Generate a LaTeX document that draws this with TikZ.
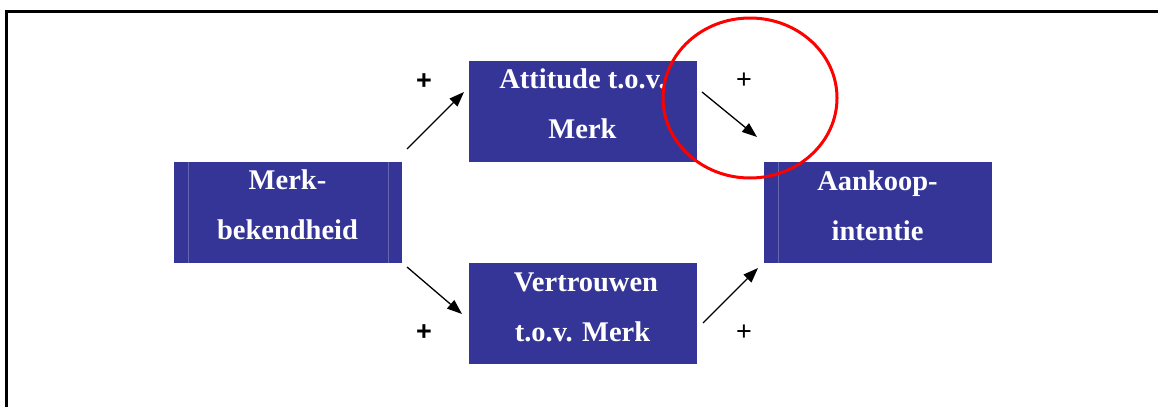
\documentclass[tikz,border=0pt]{standalone}
\usepackage{fontspec}
\setmainfont{Liberation Serif}
\newfontfamily\plusfont{Liberation Sans}
\usetikzlibrary{arrows.meta}
\definecolor{boxblue}{RGB}{53,53,151}
\definecolor{boxedge}{RGB}{100,100,175}
\tikzset{
  boxst/.style={fill=boxblue, draw=none, inner sep=0pt, minimum width=228pt, minimum height=101pt},
  txt/.style={text=white, font=\fontsize{28.5}{34}\selectfont\bfseries, anchor=base, inner sep=0pt},
  arr/.style={line width=1.3pt, -{Triangle[length=15pt,width=11pt]}},
  plusb/.style={font=\plusfont\fontsize{27}{30}\selectfont\bfseries, inner sep=0pt},
  plusr/.style={font=\plusfont\fontsize{27}{30}\selectfont, inner sep=0pt},
  seam/.style={draw=boxedge, line width=0.5pt}
}
\begin{document}
\begin{tikzpicture}[x=1pt,y=-1pt]
\useasboundingbox (0,0) rectangle (1158,407);
% frame
\draw[line width=3pt] (6.5,407) -- (6.5,11) -- (1158,11);
% boxes
\node[boxst] (merk) at (287.5,212.5) {};
\node[boxst] (att) at (582.5,111.5) {};
\node[boxst] (ver) at (582.5,313.5) {};
\node[boxst] (aan) at (877.5,212.5) {};
% subtle seams
\draw[seam] (188,162) -- (188,263);
\draw[seam] (388,162) -- (388,263);
\draw[seam] (778,162) -- (778,263);
% texts
\node[txt] (t1) at (287.5,189) {Merk-};
\node[txt] (t2) at (287.5,239) {bekendheid};
\node[txt] (t3) at (582.5,88) {Attitude t.o.v.};
\node[txt] (t4) at (582.5,138) {Merk};
\node[txt] (t5) at (586,291) {Vertrouwen};
\node[txt] (t6) at (582.5,341) {t.o.v. Merk};
\node[txt] (t7) at (877.5,190) {Aankoop-};
\node[txt] (t8) at (877.5,240) {intentie};
% arrow coordinates
\coordinate (a1s) at (407,149); \coordinate (a1e) at (464,92);
\coordinate (a2s) at (407,267); \coordinate (a2e) at (462,314);
\coordinate (a3s) at (702,92); \coordinate (a3e) at (757,137);
\coordinate (a4s) at (703,323); \coordinate (a4e) at (758,268);
\draw[arr] (a1s) -- (a1e);
\draw[arr] (a2s) -- (a2e);
\draw[arr] (a3s) -- (a3e);
\draw[arr] (a4s) -- (a4e);
% plus signs
\node[plusb] (p1) at (424,82) {+};
\node[plusr] (p2) at (744,81) {+};
\node[plusb] (p3) at (424,333) {+};
\node[plusr] (p4) at (744,333) {+};
% red ellipse
\draw[red, line width=3pt] (750,98) ellipse [x radius=87, y radius=80];
\end{tikzpicture}
\end{document}
